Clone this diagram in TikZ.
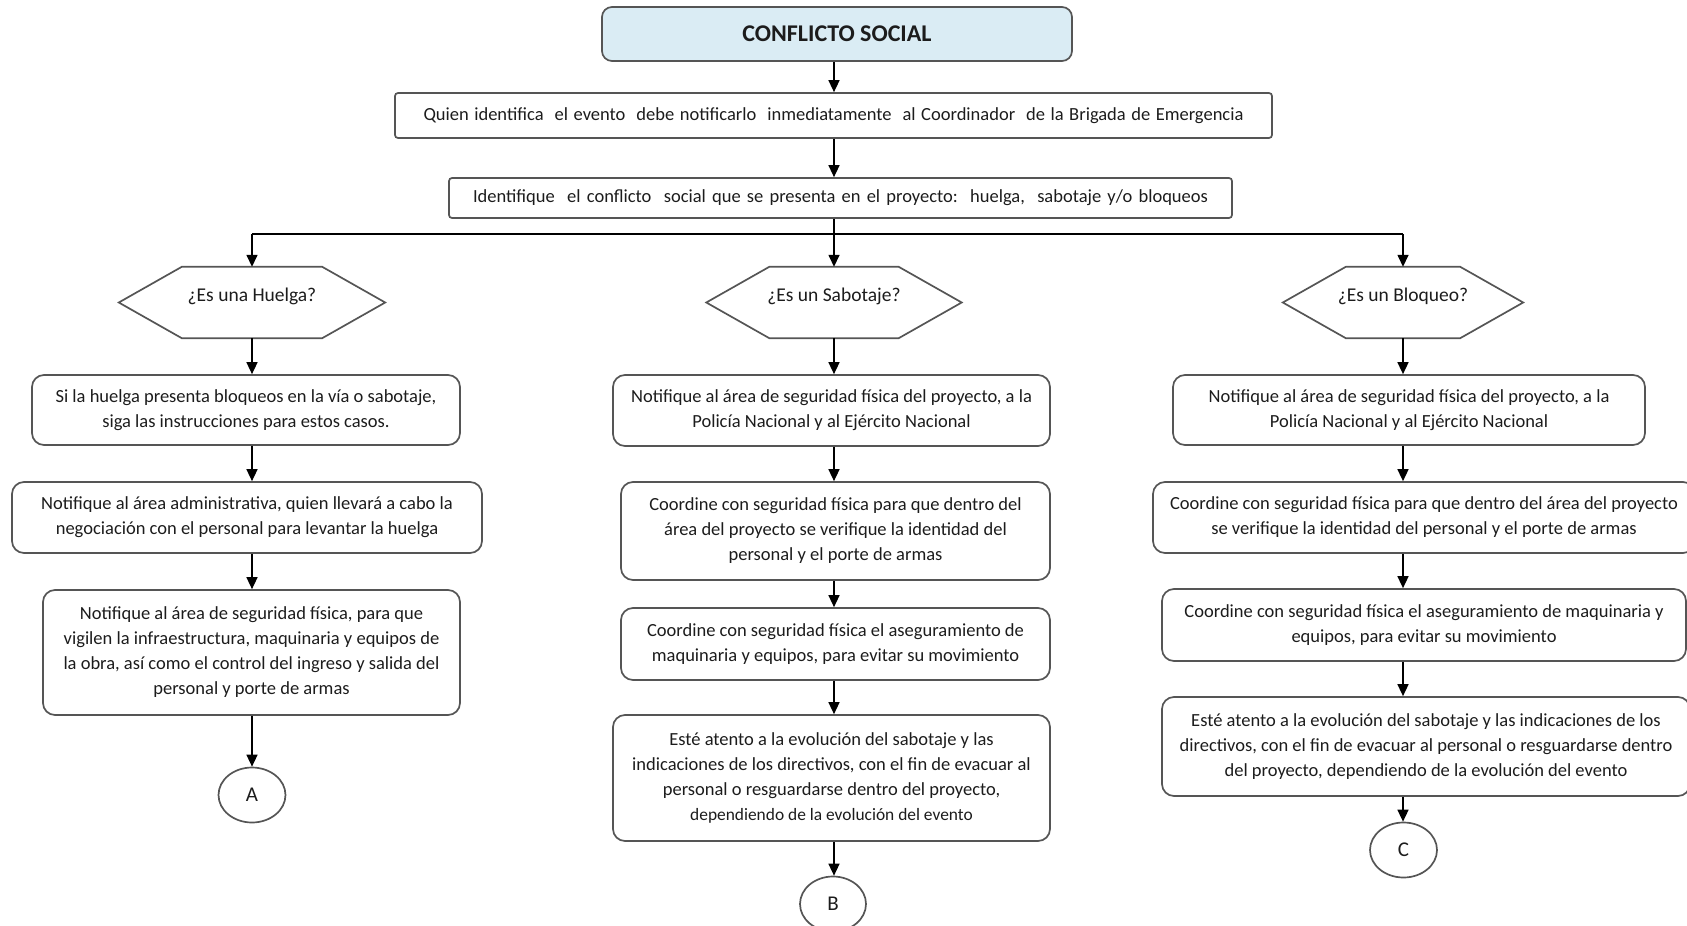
\documentclass[tikz,border=0pt]{standalone}
\usepackage{fontspec}
\setmainfont{Carlito}
\usetikzlibrary{arrows.meta,shapes.geometric}
\definecolor{boxline}{RGB}{85,85,85}
\definecolor{titlefill}{RGB}{218,236,244}
\definecolor{txt}{RGB}{28,28,28}
\begin{document}
\begin{tikzpicture}[x=1pt,y=-1pt,
  box/.style={draw=boxline, line width=1.7pt, rounded corners=12pt, align=center, text=txt,
    font=\fontsize{18.5}{25}\selectfont, inner sep=0pt},
  flatbox/.style={draw=boxline, line width=1.7pt, rounded corners=3pt, align=center, text=txt,
    font=\fontsize{18.5}{25}\selectfont, inner sep=0pt},
  titlebox/.style={draw=boxline, line width=1.7pt, rounded corners=10pt, fill=titlefill, text=txt,
    font=\fontsize{24}{28}\selectfont\bfseries, inner sep=0pt},
  hexa/.style={inner sep=0pt, minimum height=71pt, text height=13pt, text depth=16pt, text=txt,
    font=\fontsize{19.5}{25}\selectfont},
  hexline/.style={draw=boxline, line width=1.7pt},
  conn/.style={draw=boxline, line width=1.7pt, shape=ellipse, inner sep=0pt, text=txt,
    font=\fontsize{21}{24}\selectfont, minimum width=67pt, minimum height=55pt},
  arr/.style={draw=black, line width=1.5pt, -{Triangle[width=11pt,length=12pt]}},
  bar/.style={draw=black, line width=1.5pt}
]
\useasboundingbox (0,0) rectangle (1687,926);
\clip (0,0) rectangle (1687,926);

% top
\node[titlebox, minimum width=470pt, minimum height=54pt] (T) at (837,34) {CONFLICTO SOCIAL};
\node[flatbox, minimum width=877pt, minimum height=45pt] (Q) at (833.5,115.5)
  {\makebox[820pt][s]{Quien identifica\ \ el evento\ \ debe notificarlo\ \ inmediatamente\ \ al Coordinador\ \ de la Brigada de Emergencia}};
\node[flatbox, minimum width=783pt, minimum height=40pt] (ID) at (840.5,198)
  {\makebox[735pt][s]{Identifique\ \ el conflicto\ \ social que se presenta en el proyecto:\ \ huelga,\ \ sabotaje y/o bloqueos}};

% hexagons
\node[hexa, minimum width=266pt] (H1) at (252,302.5) {¿Es una Huelga?};
\node[hexa, minimum width=255pt] (H2) at (834,302.5) {¿Es un Sabotaje?};
\node[hexa, minimum width=240pt] (H3) at (1403,302.5) {¿Es un Bloqueo?};
\foreach \n in {H1,H2,H3}
  \draw[hexline] (\n.west) -- ([xshift=63pt]\n.north west) -- ([xshift=-63pt]\n.north east)
    -- (\n.east) -- ([xshift=-63pt]\n.south east) -- ([xshift=63pt]\n.south west) -- cycle;

% left column
\node[box, minimum width=428pt, minimum height=70pt] (L1) at (246,410)
  {Si la huelga presenta bloqueos en la vía o sabotaje,\\siga las instrucciones para estos casos.};
\node[box, minimum width=470pt, minimum height=71pt] (L2) at (247,517.5)
  {Notifique al área administrativa, quien llevará a cabo la\\negociación con el personal para levantar la huelga};
\node[box, minimum width=417pt, minimum height=125pt] (L3) at (251.5,652.5)
  {Notifique al área de seguridad física, para que\\vigilen la infraestructura, maquinaria y equipos de\\la obra, así como el control del ingreso y salida del\\personal y porte de armas};
\node[conn] (A) at (252,795) {A};

% middle column
\node[box, minimum width=437pt, minimum height=71pt] (M1) at (831.5,410.5)
  {Notifique al área de seguridad física del proyecto, a la\\Policía Nacional y al Ejército Nacional};
\node[box, minimum width=429pt, minimum height=98pt] (M2) at (835.5,531)
  {Coordine con seguridad física para que dentro del\\área del proyecto se verifique la identidad del\\personal y el porte de armas};
\node[box, minimum width=429pt, minimum height=72pt] (M3) at (835.5,644)
  {Coordine con seguridad física el aseguramiento de\\maquinaria y equipos, para evitar su movimiento};
\node[box, minimum width=437pt, minimum height=126pt] (M4) at (831.5,778)
  {Esté atento a la evolución del sabotaje y las\\indicaciones de los directivos, con el fin de evacuar al\\personal o resguardarse dentro del proyecto,\\{\fontsize{17.4}{25}\selectfont dependiendo de la evolución del evento}};
\node[conn, minimum width=66pt] (B) at (833,904) {B};

% right column
\node[box, minimum width=472pt, minimum height=70pt] (R1) at (1409,410)
  {Notifique al área de seguridad física del proyecto, a la\\Policía Nacional y al Ejército Nacional};
\node[box, minimum width=542pt, minimum height=71pt] (R2) at (1424,517.5)
  {Coordine con seguridad física para que dentro del área del proyecto\\se verifique la identidad del personal y el porte de armas};
\node[box, minimum width=524pt, minimum height=72pt] (R3) at (1424,625)
  {Coordine con seguridad física el aseguramiento de maquinaria y\\equipos, para evitar su movimiento};
\node[box, minimum width=528pt, minimum height=99pt] (R4) at (1426,746.5)
  {Esté atento a la evolución del sabotaje y las indicaciones de los\\directivos, con el fin de evacuar al personal o resguardarse dentro\\del proyecto, dependiendo de la evolución del evento};
\node[conn] (C) at (1403.5,850) {C};

% connectors top
\draw[arr] (T.south -| H2.north) -- (Q.north -| H2.north);
\draw[arr] (Q.south -| H2.north) -- (ID.north -| H2.north);
\coordinate (split) at (834,234);
\draw[arr] (ID.south -| H2.north) -- (H2.north);
\draw[bar] (split) -- (split -| H1.north);
\draw[bar] (split) -- (split -| H3.north);
\draw[arr] (split -| H1.north) -- (H1.north);
\draw[arr] (split -| H3.north) -- (H3.north);

% column connectors
\draw[arr] (H1.south) -- (H1.south |- L1.north);
\draw[arr] (L1.south -| H1.south) -- (L2.north -| H1.south);
\draw[arr] (L2.south -| H1.south) -- (L3.north -| H1.south);
\draw[arr] (L3.south -| H1.south) -- (A.north);

\draw[arr] (H2.south) -- (H2.south |- M1.north);
\draw[arr] (M1.south -| H2.south) -- (M2.north -| H2.south);
\draw[arr] (M2.south -| H2.south) -- (M3.north -| H2.south);
\draw[arr] (M3.south -| H2.south) -- (M4.north -| H2.south);
\draw[arr] (M4.south -| H2.south) -- (B.north -| H2.south);

\draw[arr] (H3.south) -- (H3.south |- R1.north);
\draw[arr] (R1.south -| H3.south) -- (R2.north -| H3.south);
\draw[arr] (R2.south -| H3.south) -- (R3.north -| H3.south);
\draw[arr] (R3.south -| H3.south) -- (R4.north -| H3.south);
\draw[arr] (R4.south -| H3.south) -- (C.north -| H3.south);
\end{tikzpicture}
\end{document}
